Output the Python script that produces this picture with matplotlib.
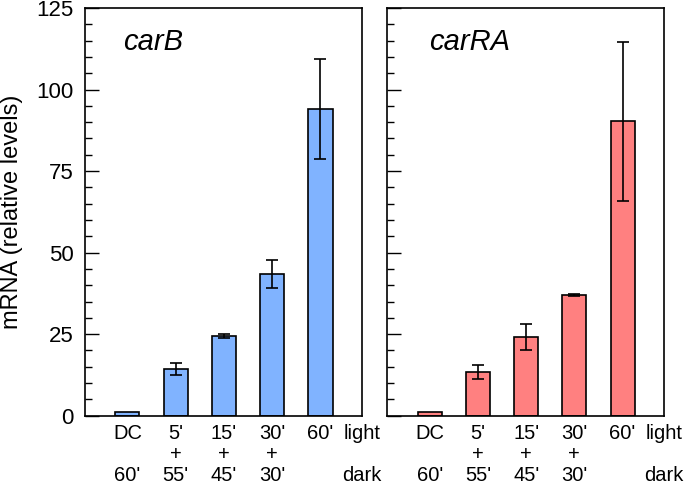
import numpy as np
import matplotlib
matplotlib.use('Agg')
import matplotlib.pyplot as plt

plt.rcParams['font.family'] = ['Liberation Sans', 'DejaVu Sans']

labels = ["DC\n\n60'", "5'\n+\n55'", "15'\n+\n45'", "30'\n+\n30'", "60'\n\n"]
carB = [1.0, 14.2, 24.5, 43.4, 94.0]
carB_err = [0.0, 1.8, 0.6, 4.3, 15.3]
carRA = [1.0, 13.3, 24.1, 37.0, 90.3]
carRA_err = [0.0, 2.2, 3.9, 0.4, 24.4]

blue = '#80b3ff'
red = '#ff8080'

fig = plt.figure(figsize=(6.85, 4.84), dpi=100)
ax1 = fig.add_axes([0.124, 0.1413, 0.4044, 0.842])
ax2 = fig.add_axes([0.5654, 0.1413, 0.404, 0.842])

x = np.arange(len(labels))
panels = [(ax1, carB, carB_err, blue, 'carB', 0.137),
          (ax2, carRA, carRA_err, red, 'carRA', 0.152)]

for ax, vals, errs, col, name, tx in panels:
    ax.bar(x, vals, width=0.5, color=col, edgecolor='black', linewidth=1.2, zorder=2)
    ax.errorbar(x[1:], vals[1:], yerr=errs[1:], fmt='none', ecolor='black',
                elinewidth=1.2, capsize=4.5, capthick=1.2, zorder=3)
    ax.set_xlim(-0.88, 4.86)
    ax.set_ylim(0, 125)
    ax.set_yticks([0, 25, 50, 75, 100, 125])
    ax.set_yticks(np.arange(0, 126, 5), minor=True)
    ax.set_xticks(list(x) + [4.86])
    ax.set_xticklabels(labels + ["light\n\ndark"], fontsize=14.5, linespacing=1.12)
    ax.tick_params(axis='x', length=0, pad=6)
    ax.tick_params(axis='y', which='major', direction='in', length=10, width=1.0,
                   labelsize=16, pad=8)
    ax.tick_params(axis='y', which='minor', direction='in', length=5, width=1.0)
    for s in ax.spines.values():
        s.set_linewidth(1.2)
    ax.text(tx, 0.917, name, transform=ax.transAxes, fontsize=21, style='italic',
            ha='left', va='center')

ax2.tick_params(axis='y', labelleft=False)
ax1.set_ylabel('mRNA (relative levels)', fontsize=17)
ax1.yaxis.set_label_coords(-0.224, 0.5)

fig.savefig('out.png', dpi=100)
